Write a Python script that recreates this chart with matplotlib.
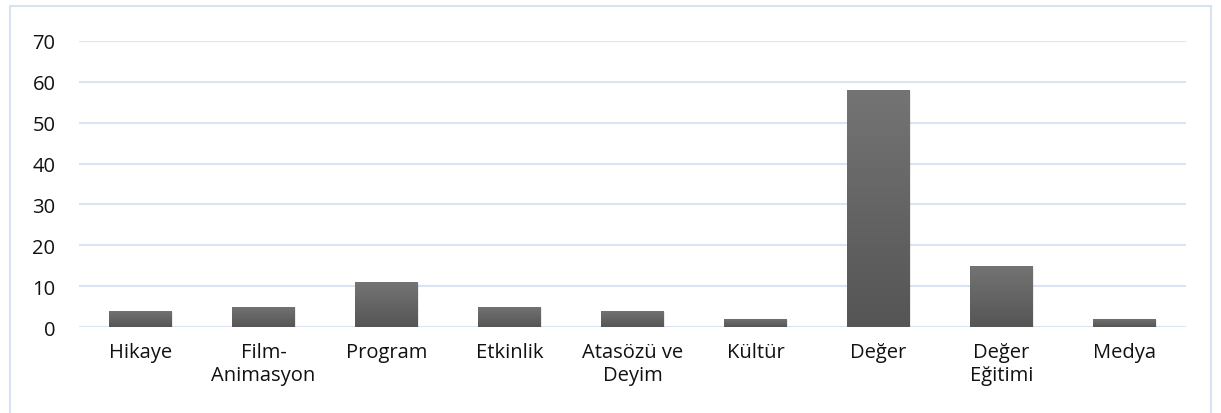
import numpy as np
import matplotlib.pyplot as plt
from matplotlib.patches import Rectangle
from matplotlib.colors import LinearSegmentedColormap

# data
categories = ['Hikaye', 'Film-\nAnimasyon', 'Program', 'Etkinlik', 'Atasözü ve\nDeyim',
              'Kültür', 'Değer', 'Değer\nEğitimi', 'Medya']
values = [4, 5, 11, 5, 4, 2, 58, 15, 2]
yticks = [0, 10, 20, 30, 40, 50, 60, 70]

plt.rcParams['font.family'] = ['Open Sans', 'DejaVu Sans']

fig = plt.figure(figsize=(12.21, 4.14), dpi=100)
ax = fig.add_axes([0.0647, 0.2077, 0.9066, 0.6909])

# light blue frame round the chart area
fig.patches.append(Rectangle((0.008, -0.01), 0.984, 0.993, transform=fig.transFigure,
                             fill=False, edgecolor='#d7e3f2', linewidth=1.5))

x = np.arange(len(categories))
width = 0.51
bars = ax.bar(x, values, width=width, color='#656565', zorder=3)

# vertical gradient on each bar
grad = np.linspace(0, 1, 256).reshape(-1, 1)
cmap = LinearSegmentedColormap.from_list('g', ['#555555', '#747474'])
for b in bars:
    x0, y0 = b.get_x(), b.get_y()
    w, h = b.get_width(), b.get_height()
    # soft shadow
    ax.add_patch(Rectangle((x0 + 0.01, y0 - 0.35), w, h, color='#000000', alpha=0.08,
                           zorder=2, linewidth=0))
    im = ax.imshow(grad, extent=[x0, x0 + w, y0, y0 + h], origin='lower',
                   cmap=cmap, aspect='auto', zorder=4)
    im.set_clip_path(b)

ax.set_xlim(-0.5, len(categories) - 0.5)
ax.set_ylim(0, 70)
ax.set_yticks(yticks)
ax.set_xticks(x)
ax.set_xticklabels(categories, fontsize=14.5, linespacing=1.2, color='#111111')
ax.tick_params(axis='y', labelsize=14.5, length=0, pad=17, labelcolor='#111111')
ax.tick_params(axis='x', length=0, pad=11)
ax.grid(axis='y', color='#d9e5f4', linewidth=1.5, zorder=0)
ax.set_axisbelow(True)
for s in ax.spines.values():
    s.set_visible(False)

fig.savefig('out.png', dpi=100)
